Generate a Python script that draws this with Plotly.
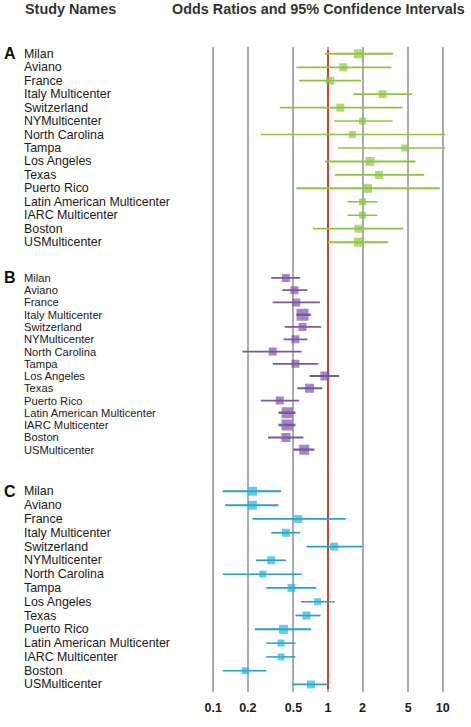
import plotly.graph_objects as go
from plotly.subplots import make_subplots

studies = ["Milan", "Aviano", "France", "Italy Multicenter", "Switzerland",
           "NY Multicenter", "North Carolina", "Tampa", "Los Angeles", "Texas",
           "Puerto Rico", "Latin American Multicenter", "IARC Multicenter",
           "Boston", "US Multicenter"]
study_labels = ["Milan", "Aviano", "France", "Italy Multicenter", "Switzerland",
                "NYMulticenter", "North Carolina", "Tampa", "Los Angeles", "Texas",
                "Puerto Rico", "Latin American Multicenter", "IARC Multicenter",
                "Boston", "USMulticenter"]

# Panel A
or_A = [1.84, 1.36, 1.04, 2.99, 1.28, 2.00, 1.63, 4.67, 2.32, 2.79, 2.21, 2.00, 2.00, 1.84, 1.84]
lo_A = [0.94, 0.53, 0.56, 1.66, 0.38, 1.13, 0.26, 1.23, 0.94, 1.15, 0.53, 1.48, 1.48, 0.74, 1.00]
hi_A = [3.70, 3.58, 1.94, 5.41, 4.46, 3.65, 12.0, 12.0, 5.79, 6.88, 9.42, 2.70, 2.70, 4.52, 3.35]
w_A = [4, 3, 3, 3, 3, 2, 2, 2, 4, 3, 4, 2, 2, 3, 4]

# Panel B
or_B = [0.43, 0.51, 0.53, 0.60, 0.60, 0.52, 0.33, 0.52, 0.94, 0.69, 0.38, 0.44, 0.44, 0.43, 0.62]
lo_B = [0.32, 0.40, 0.33, 0.53, 0.42, 0.41, 0.18, 0.33, 0.69, 0.54, 0.26, 0.37, 0.37, 0.30, 0.50]
hi_B = [0.57, 0.66, 0.85, 0.71, 0.87, 0.66, 0.59, 0.82, 1.25, 0.89, 0.56, 0.52, 0.52, 0.61, 0.76]
w_B = [3, 3, 3, 7, 3, 3, 3, 3, 4, 4, 3, 6, 6, 4, 5]

# Panel C
or_C = [0.22, 0.22, 0.55, 0.43, 1.13, 0.32, 0.27, 0.48, 0.81, 0.65, 0.41, 0.39, 0.39, 0.19, 0.71]
lo_C = [0.121, 0.127, 0.22, 0.32, 0.65, 0.235, 0.121, 0.29, 0.58, 0.52, 0.23, 0.29, 0.29, 0.121, 0.49]
hi_C = [0.39, 0.37, 1.43, 0.57, 2.00, 0.43, 0.59, 0.79, 1.14, 0.86, 0.71, 0.52, 0.52, 0.29, 0.99]
w_C = [4, 4, 3, 3, 3, 3, 2, 3, 2, 3, 4, 2, 2, 2, 3]

panel_letters = ["A", "B", "C"]
tick_values = [0.1, 0.2, 0.5, 1, 2, 5, 10]
tick_labels = ["0.1", "0.2", "0.5", "1", "2", "5", "10"]
REF_OR = 1

panels = [
    (or_A, lo_A, hi_A, w_A, "#8dc63f", "#8fc442"),
    (or_B, lo_B, hi_B, w_B, "#7d52a8", "#7a58a8"),
    (or_C, lo_C, hi_C, w_C, "#22b3dc", "#2a9fc0"),
]
label_sizes = [12.4, 11.2, 12.4]

FONT = "Liberation Sans, Arial"
W, H = 471, 727
ML, MR, MT, MB = 210.7, 25.7, 47, 20
PW = W - ML - MR
PH = H - MT - MB

fig = make_subplots(rows=3, cols=1, shared_xaxes=True, vertical_spacing=0)

def ppx(px):
    return (px - ML) / PW

def ppy(py):
    return 1 - (py - MT) / PH

# pixel layout of each panel: (domain top px, domain bottom px, first row px, last row px)
panel_px = [(47, 265, 54, 246.7), (265, 480, 283.3, 459), (480, 707, 501.7, 699.3)]

n = len(studies)
for p, (orv, lo, hi, wts, mcol, lcol) in enumerate(panels):
    row = p + 1
    yi = list(range(n))
    top, bot, r0, r1 = panel_px[p]
    s = (r1 - r0) / (n - 1)
    lo_r = -(r0 - top) / s
    hi_r = (n - 1) + (bot - r1) / s
    ref_top = lo_r + (3 / s if row == 1 else 0)
    ref_bot = hi_r - (3 / s if row == 3 else 0)

    # reference line at OR = 1 (under the study marks)
    fig.add_trace(go.Scatter(x=[REF_OR, REF_OR], y=[ref_top, ref_bot], mode="lines",
                             line=dict(color="#c8452f", width=2), hoverinfo="skip",
                             showlegend=False), row=row, col=1)
    for i in range(n):
        fig.add_trace(go.Scatter(
            x=[lo[i], hi[i]], y=[yi[i], yi[i]], mode="lines",
            line=dict(color=lcol, width=min(1 + 0.25 * wts[i], 2.6)),
            hoverinfo="skip", showlegend=False), row=row, col=1)
    fig.add_trace(go.Scatter(
        x=orv, y=yi, mode="markers",
        marker=dict(symbol="square", color=mcol,
                    size=[5 + w for w in wts], line=dict(width=0)),
        text=studies, showlegend=False), row=row, col=1)

    yname = "yaxis" if row == 1 else f"yaxis{row}"
    fig.layout[yname].update(domain=[ppy(bot), ppy(top)], range=[hi_r, lo_r],
                             showgrid=False, showticklabels=False, zeroline=False,
                             showline=False, ticks="")
    yref = "y" if row == 1 else f"y{row}"
    for i in range(n):
        fig.add_annotation(x=ppx(21.5), xref="paper", y=yi[i], yref=yref,
                           text=study_labels[i], showarrow=False, xanchor="left",
                           yanchor="middle",
                           font=dict(family=FONT, size=label_sizes[p], color="#1a1a1a"))
    fig.add_annotation(x=ppx(1.0), xref="paper", y=0, yref=yref,
                       text="<b>%s</b>" % panel_letters[p], showarrow=False,
                       xanchor="left", yanchor="middle",
                       font=dict(family=FONT, size=16, color="#111"))

for r in (1, 2, 3):
    xname = "xaxis" if r == 1 else f"xaxis{r}"
    fig.layout[xname].update(type="log", range=[-1.02, 1.02], tickvals=tick_values,
                             ticktext=tick_labels, showgrid=True, gridcolor="#a9abb6",
                             gridwidth=2, zeroline=False, showline=False, ticks="",
                             showticklabels=(r == 3), ticklabelstandoff=6,
                             tickfont=dict(family=FONT, size=12.5, color="#1a1a1a",
                                           weight="bold"))

fig.add_annotation(x=ppx(22.7), xref="paper", y=ppy(7.7), yref="paper",
                   text="<b>Study Names</b>", showarrow=False, xanchor="left",
                   yanchor="middle", font=dict(family=FONT, size=14.4, color="#333"))
fig.add_annotation(x=ppx(170), xref="paper", y=ppy(7.7), yref="paper",
                   text="<b>Odds Ratios and 95% Confidence Intervals</b>", showarrow=False,
                   xanchor="left", yanchor="middle",
                   font=dict(family=FONT, size=14.4, color="#333"))

fig.update_layout(width=W, height=H, margin=dict(l=ML, r=MR, t=MT, b=MB),
                  plot_bgcolor="white", paper_bgcolor="white")
fig.write_html("out.html", config={"displayModeBar": False},
               post_script="document.body.style.margin='0px';document.body.style.padding='0px';")
